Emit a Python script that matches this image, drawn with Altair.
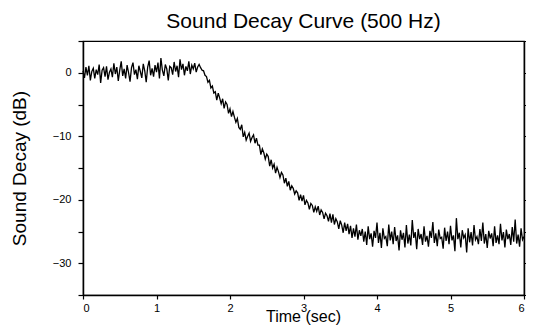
import altair as alt
import pandas as pd

time_step = 0.02
decay_db = [
    0.3, -0.8, 0.9, -0.4, 1.1, -1.2, 0.2, 0.7, -0.9, 0.5,
    -0.3, 1.3, -1.6, 0.4, 0.8, -0.6, 1.0, -1.1, 0.1, 0.6,
    -0.7, 1.5, -0.2, 0.9, -1.3, 0.4, 1.8, -0.5, 0.6, -0.9,
    1.2, 0.0, -1.4, 0.8, 1.6, -0.3, 0.5, -1.0, 1.1, 0.2,
    -0.8, 1.4, 0.3, -1.5, 0.9, 1.9, -0.4, 0.7, -0.6, 1.2,
    0.1, 1.6, -0.9, 2.3, 0.4, -0.5, 1.3, 0.6, -1.2, 1.0,
    0.8, -0.3, 1.7, 0.2, 1.1, -0.7, 2.1, 0.5, 1.4, -0.4,
    1.0, 0.3, 1.8, -0.2, 1.2, 0.6, 1.5, 0.1, 0.9, 1.3,
    0.8, 0.4, 0.3, -0.4, -0.6, -1.5, -1.2, -2.4, -2.1, -3.2,
    -3.0, -4.3, -3.2, -4.0, -4.9, -4.1, -5.6, -4.6, -5.0, -6.4,
    -5.7, -6.9, -6.1, -7.0, -7.8, -7.2, -8.6, -8.9, -8.2, -10.1,
    -9.4, -10.6, -10.0, -9.5, -10.8, -10.2, -9.8, -11.1, -10.3, -11.4,
    -11.4, -12.9, -12.0, -12.6, -13.6, -12.8, -13.2, -14.7, -13.7, -15.0,
    -14.4, -15.8, -14.9, -15.6, -16.5, -15.7, -16.1, -17.4, -16.6, -17.9,
    -17.1, -18.5, -17.8, -18.2, -19.1, -18.6, -18.9, -20.1, -19.2, -20.2,
    -19.3, -20.8, -20.1, -20.5, -21.5, -20.6, -20.9, -22.0, -21.1, -21.8,
    -21.0, -22.4, -21.6, -22.0, -23.0, -22.1, -22.5, -23.4, -22.2, -23.6,
    -22.3, -23.9, -23.0, -23.5, -24.6, -23.3, -24.0, -25.2, -23.6, -24.9,
    -23.8, -25.4, -24.1, -26.0, -24.5, -25.8, -23.9, -26.3, -24.8, -25.7,
    -24.6, -26.6, -25.0, -27.1, -24.2, -26.2, -25.3, -27.4, -24.9, -26.0,
    -23.6, -26.8, -25.2, -27.6, -24.5, -26.1, -25.8, -27.3, -23.9, -26.4,
    -25.0, -27.0, -24.3, -26.5, -25.6, -28.0, -24.8, -26.3, -25.2, -27.5,
    -24.0, -26.9, -25.5, -27.2, -23.2, -26.0, -25.1, -27.8, -24.6, -26.2,
    -25.4, -27.1, -24.2, -26.6, -25.7, -27.4, -24.9, -26.0, -23.5, -26.8,
    -25.3, -27.3, -24.7, -26.1, -25.9, -27.7, -24.4, -26.5, -25.0, -27.0,
    -24.1, -26.4, -25.6, -28.1, -22.9, -26.2, -25.2, -27.5, -24.8, -26.0,
    -25.5, -28.3, -24.5, -26.7, -25.1, -27.2, -24.0, -26.3, -25.8, -27.0,
    -24.6, -26.5, -23.6, -26.9, -25.4, -27.6, -24.9, -26.1, -25.3, -27.3,
    -24.2, -26.8, -25.6, -27.0, -23.8, -26.4, -25.1, -27.5, -24.7, -26.2,
    -25.4, -27.1, -24.3, -26.6, -23.1, -26.9, -25.5, -27.4, -24.5, -26.3,
    -25.8,
]
time_sec = [round(i * time_step, 2) for i in range(len(decay_db))]

x_tick_values = [0, 0.5, 1, 1.5, 2, 2.5, 3, 3.5, 4, 4.5, 5, 5.5, 6]
y_tick_values = [-35, -30, -25, -20, -15, -10, -5, 0, 5]

df = pd.DataFrame({"time": time_sec, "db": decay_db})

FONT = "Liberation Sans"

x_enc = alt.X(
    "time:Q",
    scale=alt.Scale(domain=[0, 6], nice=False, zero=False),
    axis=alt.Axis(
        values=x_tick_values,
        labelExpr="datum.value % 1 == 0 ? format(datum.value, 'd') : ''",
        title="Time (sec)",
        titleFontSize=16,
        titleFont=FONT,
        titleFontWeight="normal",
        titlePadding=-5,
        titleX=220,
        labelFontSize=11,
        labelFont=FONT,
        labelPadding=3,
        grid=False,
        domainColor="black",
        domainWidth=1.5,
        tickColor="black",
        tickSize=4,
        tickWidth=1.2,
        labelColor="black",
        titleColor="black",
    ),
)

y_common = dict(
    grid=False,
    domainColor="black",
    domainWidth=1.5,
    tickColor="black",
    tickSize=5,
    tickWidth=1.2,
)

line = alt.Chart(df).mark_line(color="black", strokeWidth=1.3).encode(
    x=x_enc,
    y=alt.Y(
        "db:Q",
        scale=alt.Scale(domain=[-35, 5], nice=False, zero=False),
        axis=alt.Axis(
            values=y_tick_values,
            labelExpr="datum.value % 10 == 0 ? format(datum.value, 'd') : ''",
            title="Sound Decay (dB)",
            titleFontSize=19,
            titleFont=FONT,
            titleFontWeight="normal",
            titlePadding=23,
            labelFontSize=11,
            labelFont=FONT,
            labelPadding=7,
            labelColor="black",
            titleColor="black",
            **y_common,
        ),
    ),
)

right_axis = alt.Chart(df).mark_line(opacity=0).encode(
    x=alt.X("time:Q", scale=alt.Scale(domain=[0, 6], nice=False, zero=False)),
    y=alt.Y(
        "db:Q",
        scale=alt.Scale(domain=[-35, 5], nice=False, zero=False),
        axis=alt.Axis(
            orient="right",
            values=y_tick_values,
            labels=False,
            title=None,
            **y_common,
        ),
    ),
)

chart = (
    alt.layer(line, right_axis)
    .resolve_axis(y="independent")
    .properties(
        width=441,
        height=254,
        title=alt.Title(
            "Sound Decay Curve (500 Hz)",
            font=FONT,
            fontSize=21,
            fontWeight="normal",
            color="black",
            anchor="middle",
            offset=8,
        ),
        padding={"left": 75, "top": 33, "right": 2, "bottom": 30},
        autosize=alt.AutoSizeParams(type="none"),
    )
    .configure_view(stroke="black", strokeWidth=1.2)
)

chart.save("out.html", embed_options={"renderer": "svg", "actions": False})
